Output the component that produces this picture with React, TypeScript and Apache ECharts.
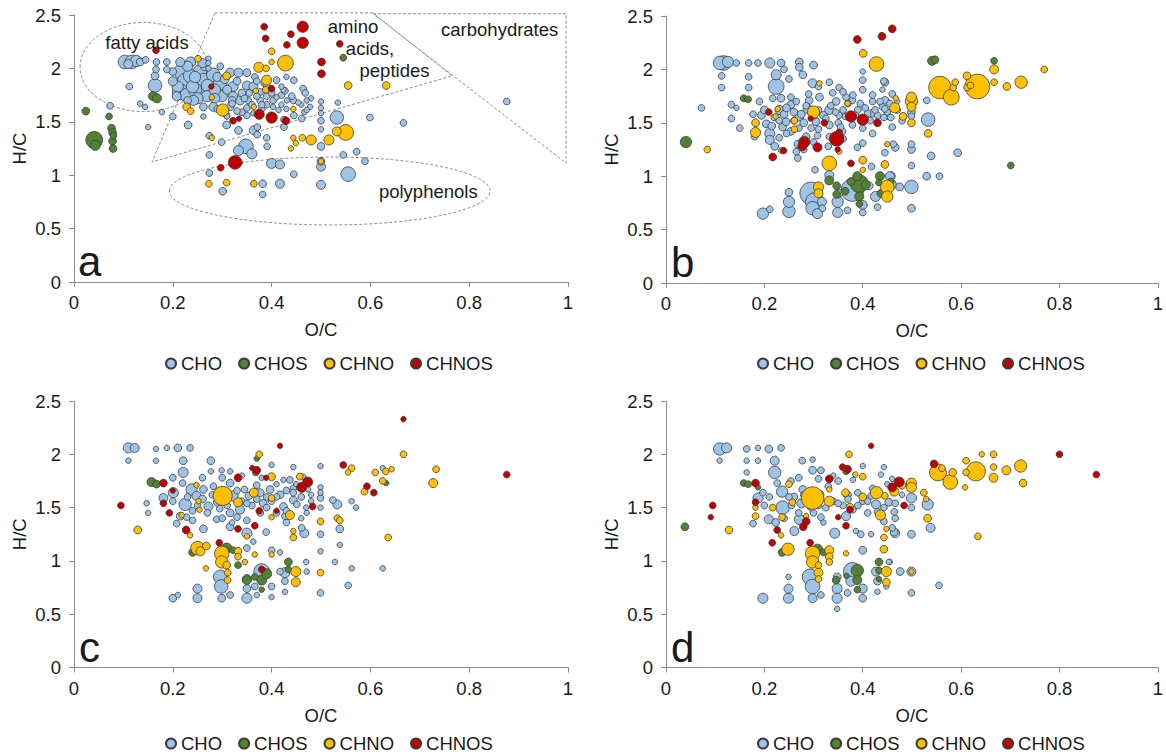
import React, { useEffect, useRef } from "react";
import * as echarts from "echarts";

// ---------- data: [O/C, H/C, relative intensity] ----------
const groupNames = ["CHO", "CHOS", "CHNO", "CHNOS"];
const xTickLabels = ["0", "0.2", "0.4", "0.6", "0.8", "1"];
const yTickLabels = ["0", "0.5", "1", "1.5", "2", "2.5"];
const panelLetters = ["a", "b", "c", "d"];

const choA = [
  [0.103,2.06,36],[0.117,2.06,36],[0.126,2.07,25],[0.11,2.04,16],[0.134,2.06,12],[0.145,2.08,9],[0.167,2.06,9],[0.188,2.06,9],
  [0.112,1.83,9],[0.073,1.65,9],[0.134,1.67,6],[0.144,1.64,6],[0.15,1.45,6],[0.178,1.59,6],[0.2,1.55,9],
  [0.164,1.93,12],[0.164,1.84,36],[0.166,1.99,9],
  [0.22,1.97,56],[0.225,1.88,49],[0.215,1.78,49],[0.228,1.75,36],[0.255,1.97,36],[0.262,1.89,36],[0.255,1.77,36],[0.282,1.94,36],
  [0.296,1.86,36],[0.299,1.74,25],[0.2,1.88,16],[0.2,1.97,12],[0.208,1.74,16],[0.188,1.99,9],[0.215,2.06,16],[0.236,2.06,20],
  [0.265,2.02,16],[0.316,1.96,16],[0.333,1.96,16],[0.35,1.96,12],[0.322,1.83,20],[0.35,1.84,16],[0.363,1.83,16],[0.336,1.7,16],
  [0.316,1.64,12],[0.282,1.64,16],[0.262,1.64,12],[0.242,1.7,20],[0.269,1.74,25],[0.322,1.74,16],[0.353,1.7,9],[0.377,1.7,9],
  [0.403,1.7,9],[0.403,1.64,6],[0.42,1.75,9],[0.424,1.8,6],[0.444,1.7,9],[0.41,1.89,9],[0.377,1.78,9],[0.366,1.92,9],
  [0.35,1.56,9],[0.363,1.58,6],[0.309,1.56,9],[0.262,1.55,6],[0.296,2.02,9],[0.272,2.09,6],[0.272,2.05,6],[0.272,2.0,6],
  [0.24,1.83,30],[0.285,1.8,25],[0.31,1.8,16],[0.245,1.92,25],[0.29,1.92,16],[0.23,1.7,12],[0.34,1.77,12],[0.33,1.88,12],
  [0.37,1.74,9],[0.39,1.74,9],[0.39,1.66,9],[0.38,1.62,9],[0.35,1.63,9],[0.34,1.59,9],[0.32,1.67,9],[0.36,1.66,9],
  [0.355,1.77,9],[0.4,1.77,9],[0.385,1.86,9],
  [0.235,1.93,36],[0.245,1.8,36],[0.27,1.84,30],[0.25,1.72,25],[0.285,1.72,20],[0.305,1.9,16],[0.21,1.83,25],[0.23,2.02,20],
  [0.26,2.05,16],[0.32,1.7,12],[0.345,1.72,9],[0.33,1.6,9],[0.38,1.66,9],[0.41,1.73,6],[0.43,1.62,6],[0.46,1.66,6],
  [0.48,1.72,6],[0.39,1.84,9],[0.42,1.83,6],[0.43,1.92,6],[0.37,1.88,9],[0.29,1.62,9],[0.31,1.55,6],
  [0.445,1.89,9],[0.464,1.81,9],[0.468,1.77,9],[0.471,1.7,6],[0.478,1.64,6],[0.466,1.59,6],[0.445,1.56,9],[0.454,1.68,6],
  [0.431,1.7,6],[0.42,1.66,6],[0.414,1.61,6],[0.427,1.79,9],[0.441,1.74,9],[0.461,1.53,9],[0.471,1.61,6],
  [0.5,1.69,6],[0.5,1.63,6],[0.5,1.58,6],[0.5,1.51,9],[0.5,1.43,6],[0.5,1.27,12],[0.5,1.13,12],[0.5,1.08,16],[0.5,0.91,16],
  [0.534,1.68,6],[0.532,1.54,36],[0.599,1.54,9],[0.667,1.49,9],[0.572,1.22,9],[0.589,1.13,9],[0.545,1.19,9],[0.555,1.01,42],[0.876,1.69,9],
  [0.348,1.27,42],[0.333,1.23,20],[0.36,1.2,20],[0.391,1.27,9],[0.371,1.38,9],[0.371,1.45,9],[0.425,1.45,9],[0.425,1.52,9],
  [0.4,1.11,20],[0.417,1.1,16],[0.445,1.01,9],[0.382,0.92,12],[0.382,0.82,9],[0.417,0.92,16],[0.301,0.85,12],[0.274,1.19,9],
  [0.274,1.02,9],[0.299,1.31,9],[0.274,1.37,9],[0.231,1.47,12],[0.309,1.47,12],[0.333,1.42,12],[0.364,1.42,16],[0.39,1.35,9]
];
const chosA = [
  [0.024,1.6,12],[0.041,1.33,56],[0.043,1.28,20],[0.071,1.55,9],[0.076,1.44,12],[0.078,1.4,12],[0.08,1.37,9],[0.078,1.32,12],
  [0.079,1.25,12],[0.16,1.74,16],[0.168,1.72,16],[0.545,2.1,9]
];
const chnoA = [
  [0.251,2.09,9],[0.309,1.93,12],[0.301,1.61,30],[0.279,1.73,6],[0.228,1.64,12],[0.236,1.6,9],[0.374,2.01,20],[0.39,1.89,20],
  [0.389,2.0,9],[0.4,2.16,9],[0.4,2.06,6],[0.428,2.05,49],[0.388,1.8,9],[0.368,1.79,6],[0.364,1.64,6],[0.279,1.35,6],
  [0.336,1.12,6],[0.273,0.92,9],[0.309,0.93,9],[0.364,0.92,9],[0.444,1.62,6],[0.444,1.35,6],[0.449,1.3,6],[0.439,1.25,6],
  [0.555,1.84,12],[0.632,1.84,12],[0.55,1.4,49],[0.532,1.41,16],[0.516,1.33,20],[0.48,1.33,20],[0.462,1.35,9],[0.5,1.13,6]
];
const chnosA = [
  [0.166,2.17,9],[0.278,1.83,6],[0.322,1.51,9],[0.334,1.53,6],[0.326,1.12,36],[0.297,1.07,9],[0.375,1.57,20],[0.4,1.54,25],
  [0.4,1.81,9],[0.429,1.51,12],[0.385,2.39,9],[0.388,2.28,9],[0.431,2.22,9],[0.439,2.32,9],[0.463,2.39,25],[0.463,2.24,25],
  [0.501,2.06,12],[0.501,1.95,12],[0.538,2.23,9]
];

const choB = [
  [0.11,2.06,36],[0.117,2.06,42],[0.126,2.07,25],[0.143,2.06,9],[0.113,1.94,9],[0.113,1.83,9],[0.072,1.64,9],[0.133,1.67,9],
  [0.143,1.64,6],[0.133,1.54,9],[0.15,1.45,9],[0.168,2.06,9],[0.187,2.06,9],[0.211,2.06,20],[0.234,2.06,12],[0.224,1.95,20],
  [0.224,1.84,49],[0.168,1.93,9],[0.168,1.83,9],[0.271,2.07,12],[0.271,2.02,12],[0.3,2.04,12],[0.278,1.95,12],[0.298,1.87,16],
  [0.332,1.88,9],[0.352,1.83,9],[0.4,1.9,9],[0.4,1.98,6],[0.443,1.89,9],[0.44,1.81,6],[0.46,1.77,9],
  [0.295,0.84,100],[0.302,0.76,64],[0.298,0.7,36],[0.308,0.65,20],[0.25,0.76,25],[0.25,0.67,30],[0.25,0.85,12],[0.197,0.65,25],
  [0.211,0.69,9],[0.349,0.76,25],[0.349,0.66,20],[0.352,0.84,12],[0.332,1.01,16],[0.379,0.87,100],[0.4,0.73,16],[0.4,0.66,9],
  [0.369,0.68,9],[0.317,0.76,16],[0.318,0.7,9],[0.426,0.81,20],[0.43,0.71,9],[0.413,0.91,12],[0.457,1.0,16],[0.457,0.92,25],
  [0.303,1.06,9],[0.4,1.31,9],[0.389,1.27,9],[0.418,1.09,9],[0.268,1.17,9],[0.265,1.23,9],[0.268,1.3,12],[0.211,1.4,20],
  [0.211,1.34,16],[0.221,1.28,12],[0.194,1.57,12],[0.231,1.62,16],[0.237,1.46,12],[0.254,1.42,12],[0.285,1.37,12],[0.308,1.38,9],
  [0.332,1.48,12],[0.332,1.37,9],[0.359,1.42,9],[0.271,1.56,16],[0.288,1.63,16],[0.332,1.62,16],[0.346,1.7,12],[0.379,1.71,9],
  [0.42,1.7,9],[0.42,1.59,12],[0.44,1.65,9],[0.453,1.56,9],[0.254,1.67,12],[0.254,1.74,9],[0.234,1.73,12],[0.217,1.73,9],
  [0.19,1.7,9],[0.177,1.58,9],[0.18,1.37,9],[0.204,1.49,12],[0.291,1.71,12],[0.312,1.74,12],[0.339,1.78,9],[0.366,1.74,9],
  [0.4,1.81,9],[0.305,1.51,12],[0.244,1.51,12],[0.352,1.57,9],[0.379,1.48,9],[0.41,1.59,9],[0.4,1.45,9],
  [0.26,1.6,12],[0.28,1.5,12],[0.32,1.57,12],[0.36,1.62,9],[0.39,1.62,9],[0.43,1.57,9],[0.27,1.45,9],[0.31,1.44,9],
  [0.35,1.5,9],[0.22,1.55,9],[0.24,1.58,12],[0.3,1.57,12],
  [0.2,1.62,12],[0.215,1.47,12],[0.23,1.52,9],[0.245,1.64,12],[0.265,1.7,9],[0.275,1.58,12],[0.285,1.66,9],[0.295,1.45,9],
  [0.31,1.62,9],[0.325,1.54,9],[0.335,1.66,9],[0.345,1.6,9],[0.355,1.46,9],[0.365,1.56,9],[0.37,1.68,9],[0.385,1.57,9],
  [0.395,1.68,9],[0.405,1.64,9],[0.415,1.52,9],[0.425,1.62,9],[0.435,1.7,9],[0.45,1.6,9],[0.455,1.68,9],[0.47,1.62,9],
  [0.48,1.52,9],[0.29,1.77,9],[0.31,1.84,9],[0.36,1.79,9],[0.38,1.76,9],[0.42,1.76,9],[0.26,1.52,9],[0.245,1.4,9],
  [0.3,1.32,9],[0.33,1.28,9],[0.36,1.35,9],[0.42,1.4,9],[0.28,1.25,9],[0.23,1.36,9],[0.25,1.91,9],[0.24,2.0,9],
  [0.445,1.88,12],[0.445,1.71,12],[0.445,1.63,9],[0.443,1.55,9],[0.457,1.55,9],[0.46,1.46,9],[0.47,1.7,6],[0.499,1.6,12],
  [0.499,1.56,9],[0.53,1.71,9],[0.533,1.53,36],[0.462,1.3,9],[0.466,1.27,12],[0.445,1.22,9],[0.499,1.3,9],[0.499,1.25,12],
  [0.499,1.1,9],[0.539,1.19,12],[0.593,1.22,12],[0.53,1.0,12],[0.556,1.0,9],[0.499,0.9,36],[0.475,0.9,12],[0.499,0.7,12],[0.455,1.0,16]
];
const chosB = [
  [0.0405,1.32,25],[0.158,1.73,9],[0.167,1.72,9],[0.541,2.08,16],[0.547,2.09,12],[0.667,2.08,9],[0.701,1.1,9],
  [0.332,0.96,16],[0.347,0.91,12],[0.347,0.83,12],[0.364,0.86,12],[0.393,0.93,64],[0.389,1.0,16],[0.393,0.81,16],[0.393,0.74,9],
  [0.435,1.0,16],[0.433,0.94,9],[0.437,0.84,12],[0.457,0.95,9],[0.376,0.95,12],[0.406,0.92,16]
];
const chnoB = [
  [0.084,1.25,9],[0.182,1.5,12],[0.182,1.41,20],[0.223,1.56,6],[0.227,1.63,6],[0.261,1.52,9],[0.261,1.44,9],[0.234,1.24,6],
  [0.3,1.6,30],[0.312,1.87,6],[0.332,1.12,42],[0.31,0.9,20],[0.31,0.84,16],[0.352,1.23,6],[0.369,1.68,6],[0.401,2.15,12],
  [0.428,2.05,42],[0.4,1.15,12],[0.4,1.06,6],[0.45,0.9,36],[0.45,0.81,25],[0.445,1.11,12],[0.45,1.3,6],[0.465,1.64,20],
  [0.467,1.73,6],[0.499,1.74,20],[0.499,1.7,30],[0.499,1.65,16],[0.499,1.5,12],[0.482,1.56,12],[0.533,1.4,12],[0.557,1.83,100],
  [0.58,1.74,49],[0.584,1.83,9],[0.588,1.88,9],[0.612,1.94,12],[0.612,1.83,9],[0.633,1.84,121],[0.619,1.85,9],[0.667,2.0,16],
  [0.667,1.88,9],[0.693,1.84,12],[0.722,1.88,30],[0.769,2.0,9]
];
const chnosB = [
  [0.209,1.6,9],[0.217,1.18,12],[0.239,1.24,9],[0.277,1.28,16],[0.281,1.32,25],[0.308,1.27,16],[0.294,1.54,6],[0.322,1.5,9],
  [0.347,1.35,42],[0.352,1.41,9],[0.349,1.25,6],[0.376,1.56,25],[0.4,1.53,25],[0.43,1.5,12],[0.376,1.12,9],[0.389,2.28,12],
  [0.439,2.31,12],[0.46,2.38,12]
];

const choC = [
  [0.11,2.06,20],[0.123,2.06,16],[0.11,1.94,6],[0.166,2.05,6],[0.188,2.06,6],[0.21,2.06,12],[0.235,2.06,9],[0.166,1.94,6],
  [0.221,1.94,12],[0.221,1.83,20],[0.277,1.94,12],[0.277,1.84,6],[0.299,1.85,6],[0.316,1.84,6],[0.147,1.54,6],[0.15,1.45,6],
  [0.181,1.59,16],[0.201,1.64,20],[0.22,1.73,9],[0.238,1.67,25],[0.225,1.53,30],[0.215,1.42,12],[0.208,1.35,9],[0.228,1.41,9],
  [0.262,1.3,12],[0.248,1.61,16],[0.272,1.51,16],[0.262,1.67,12],[0.282,1.7,9],[0.316,1.73,12],[0.322,1.61,20],[0.336,1.48,16],
  [0.316,1.45,12],[0.289,1.39,9],[0.316,1.32,12],[0.35,1.26,20],[0.354,1.61,12],[0.377,1.64,12],[0.383,1.54,12],[0.377,1.45,9],
  [0.397,1.67,12],[0.417,1.62,12],[0.424,1.51,12],[0.444,1.57,12],[0.444,1.68,9],[0.424,1.76,6],[0.444,1.88,6],[0.4,1.9,6],
  [0.43,1.36,9],[0.389,1.27,9],[0.363,1.18,6],[0.35,1.12,9],[0.4,1.1,9],[0.417,1.08,6],[0.296,0.85,36],[0.298,0.76,36],
  [0.299,0.65,12],[0.316,0.68,9],[0.25,0.74,16],[0.25,0.65,16],[0.2,0.65,12],[0.21,0.68,6],[0.35,0.83,16],[0.35,0.74,12],
  [0.35,0.65,20],[0.38,0.9,49],[0.366,0.76,9],[0.4,0.76,9],[0.4,0.66,6],[0.37,0.68,6],[0.417,0.9,9],[0.427,0.71,6],
  [0.499,1.89,6],[0.499,1.69,6],[0.499,1.64,6],[0.499,1.59,9],[0.499,1.5,6],[0.499,1.25,9],[0.499,1.09,6],[0.499,0.7,9],
  [0.533,1.53,16],[0.524,1.57,9],[0.562,1.56,6],[0.571,1.5,6],[0.538,1.3,12],[0.538,1.15,6],[0.528,0.99,6],[0.562,0.93,6],
  [0.555,0.77,9],[0.625,0.93,6],[0.625,1.87,6],[0.471,0.9,6],[0.427,0.89,20],[0.427,0.81,9],[0.47,0.99,6],
  [0.466,1.26,16],[0.461,1.31,9],[0.444,1.64,9],[0.437,1.76,9],[0.464,1.79,6],[0.474,1.67,6],[0.451,1.53,9],[0.471,1.45,6],
  [0.427,1.42,9],[0.26,1.58,12],[0.29,1.55,12],[0.31,1.52,9],[0.34,1.56,9],[0.36,1.52,9],[0.4,1.56,9],[0.41,1.45,9],
  [0.39,1.6,9],[0.27,1.45,9],[0.24,1.47,9],[0.345,1.67,9],[0.37,1.71,9],[0.41,1.72,6],[0.33,1.41,9],[0.3,1.4,9],
  [0.46,1.6,9],[0.48,1.56,6],[0.47,1.5,6],[0.35,1.38,9],
  [0.2,1.56,9],[0.23,1.6,9],[0.25,1.52,9],[0.28,1.62,9],[0.295,1.49,9],[0.33,1.66,9],[0.35,1.54,9],[0.37,1.58,9],
  [0.39,1.5,9],[0.41,1.6,9],[0.43,1.66,9],[0.43,1.47,9],[0.45,1.72,6],[0.46,1.4,6],[0.48,1.62,6],[0.3,1.78,9],
  [0.26,1.78,9],[0.34,1.8,6],[0.38,1.78,6],[0.24,1.38,9],[0.32,1.36,6],[0.2,1.78,9]
];
const chosC = [
  [0.157,1.74,16],[0.167,1.72,12],[0.24,1.08,12],[0.309,1.12,20],[0.322,1.1,9],[0.332,0.96,9],[0.35,0.82,16],[0.366,0.85,9],
  [0.38,0.82,20],[0.39,0.88,20],[0.38,0.73,6],[0.368,1.83,9],[0.37,1.96,6],[0.434,0.99,12],[0.434,0.92,9],[0.632,1.73,6]
];
const chnoC = [
  [0.301,1.61,72],[0.332,1.55,16],[0.364,1.64,16],[0.4,1.79,12],[0.4,1.59,9],[0.375,2.0,9],[0.25,1.12,36],[0.256,1.09,16],
  [0.268,1.14,12],[0.299,1.07,42],[0.299,0.99,30],[0.309,0.96,12],[0.311,0.89,9],[0.311,0.82,9],[0.332,1.09,12],[0.332,1.04,9],
  [0.346,0.99,6],[0.35,1.23,6],[0.366,1.06,6],[0.4,1.41,6],[0.4,1.06,6],[0.437,1.43,16],[0.444,1.28,6],[0.444,1.22,9],
  [0.449,0.9,20],[0.449,0.8,16],[0.129,1.29,12],[0.218,1.43,6],[0.235,1.24,6],[0.267,0.93,6],[0.252,1.56,6],[0.254,1.48,6],
  [0.248,1.71,6],[0.457,1.79,9],[0.499,1.37,9],[0.499,0.89,9],[0.533,1.4,9],[0.538,1.38,9],[0.562,1.87,9],[0.555,1.83,6],
  [0.588,1.65,9],[0.61,1.83,9],[0.631,1.84,9],[0.643,1.86,6],[0.625,1.75,9],[0.667,2.0,9],[0.733,1.86,9],[0.727,1.73,16],[0.636,1.22,9]
];
const chnosC = [
  [0.095,1.52,9],[0.181,1.73,12],[0.2,1.66,6],[0.181,1.54,9],[0.193,1.45,9],[0.227,1.29,12],[0.332,1.78,12],[0.332,1.3,9],
  [0.294,1.17,9],[0.37,1.85,12],[0.361,1.87,6],[0.366,1.33,9],[0.375,1.47,9],[0.38,0.92,9],[0.417,2.08,6],[0.389,1.78,6],
  [0.41,1.47,6],[0.667,2.33,6],[0.545,1.9,9],[0.473,1.74,20],[0.461,1.69,20],[0.483,1.51,9],[0.593,1.7,9],[0.607,1.64,9],[0.876,1.81,9]
];

const choD = [
  [0.109,2.05,30],[0.123,2.06,20],[0.109,1.94,6],[0.164,2.05,9],[0.187,2.06,6],[0.209,2.05,12],[0.234,2.06,9],[0.164,1.94,6],
  [0.187,1.94,6],[0.221,1.94,16],[0.221,1.83,30],[0.164,1.83,6],[0.277,1.94,9],[0.298,1.95,6],[0.298,1.85,12],[0.315,1.85,9],
  [0.4,1.89,6],[0.443,1.88,6],[0.177,1.35,9],[0.187,1.59,20],[0.197,1.64,9],[0.209,1.39,16],[0.223,1.36,12],[0.236,1.65,25],
  [0.237,1.5,36],[0.226,1.73,9],[0.254,1.75,9],[0.261,1.28,16],[0.271,1.39,20],[0.275,1.54,16],[0.278,1.67,12],[0.312,1.62,16],
  [0.315,1.41,9],[0.343,1.26,20],[0.366,1.42,16],[0.369,1.62,12],[0.417,1.61,9],[0.427,1.53,16],[0.443,1.37,9],[0.464,1.27,12],
  [0.396,1.25,9],[0.417,1.25,6],[0.386,1.28,6],[0.4,1.1,12],[0.293,0.85,49],[0.298,0.76,42],[0.298,0.65,16],[0.315,0.68,9],
  [0.249,0.85,6],[0.249,0.74,16],[0.249,0.65,20],[0.197,0.65,20],[0.348,0.85,12],[0.348,0.74,20],[0.348,0.65,20],[0.348,0.55,6],
  [0.379,0.9,64],[0.376,0.81,20],[0.369,0.7,9],[0.4,0.74,16],[0.4,0.65,12],[0.427,0.9,16],[0.43,0.81,12],[0.43,0.71,6],
  [0.455,0.99,6],[0.448,0.76,6],[0.437,1.81,6],[0.46,1.77,6],[0.499,1.59,20],[0.499,1.5,9],[0.532,1.53,25],[0.538,1.31,16],
  [0.499,1.25,12],[0.466,1.26,16],[0.46,1.31,9],[0.466,1.4,9],[0.464,1.46,9],[0.443,1.5,9],[0.453,1.55,12],[0.466,1.54,9],
  [0.453,0.99,6],[0.476,0.9,12],[0.499,0.9,16],[0.499,0.7,9],[0.555,0.77,9],
  [0.26,1.6,12],[0.29,1.55,12],[0.31,1.52,9],[0.34,1.56,9],[0.36,1.52,9],[0.4,1.56,9],[0.41,1.45,9],[0.39,1.64,9],
  [0.33,1.7,9],[0.35,1.75,9],[0.31,1.77,9],[0.27,1.45,9],[0.38,1.48,9],[0.42,1.68,9],[0.3,1.45,9],[0.325,1.5,9],[0.255,1.52,9],[0.2,1.52,9],
  [0.21,1.6,9],[0.25,1.6,9],[0.28,1.62,9],[0.295,1.5,9],[0.35,1.54,9],[0.37,1.58,9],[0.39,1.52,9],[0.41,1.56,9],
  [0.43,1.66,9],[0.43,1.46,9],[0.45,1.72,6],[0.48,1.62,6],[0.27,1.78,9],[0.34,1.8,6],[0.38,1.76,6],[0.24,1.4,9],[0.32,1.36,6]
];
const chosD = [
  [0.0385,1.32,12],[0.158,1.73,9],[0.167,1.72,9],[0.187,1.69,6],[0.236,1.08,12],[0.308,1.11,20],[0.32,1.08,9],[0.366,1.84,9],
  [0.346,0.82,12],[0.389,0.91,30],[0.389,0.82,16],[0.389,0.73,9],[0.433,0.99,12],[0.433,0.91,9],[0.433,0.83,6],[0.367,0.86,6]
];
const chnoD = [
  [0.128,1.29,12],[0.182,1.42,9],[0.182,1.5,6],[0.217,1.5,9],[0.234,1.24,6],[0.236,1.41,9],[0.248,1.11,30],[0.25,1.72,9],
  [0.257,1.55,9],[0.285,1.42,6],[0.298,1.59,100],[0.298,1.07,42],[0.298,0.99,30],[0.31,0.96,9],[0.31,0.89,16],[0.31,0.83,9],
  [0.332,1.56,20],[0.332,1.67,6],[0.332,1.1,16],[0.332,1.04,12],[0.332,0.99,9],[0.366,1.07,6],[0.372,2.0,9],[0.365,1.64,12],
  [0.374,1.51,9],[0.4,1.6,12],[0.4,1.79,9],[0.385,1.81,6],[0.428,1.64,30],[0.436,1.43,20],[0.445,1.61,9],[0.448,1.3,6],
  [0.443,1.22,9],[0.443,1.11,12],[0.448,0.9,20],[0.448,0.8,12],[0.464,1.65,16],[0.48,1.71,12],[0.499,1.73,20],[0.499,1.69,20],
  [0.499,0.9,6],[0.524,1.64,9],[0.529,1.58,6],[0.532,1.4,12],[0.634,1.23,9],[0.553,1.83,56],[0.561,1.87,9],[0.578,1.74,42],
  [0.583,1.83,12],[0.61,1.94,9],[0.61,1.83,9],[0.608,1.69,6],[0.63,1.84,72],[0.642,2.0,6],[0.666,2.0,9],[0.666,1.88,9],
  [0.666,1.78,16],[0.692,1.85,16],[0.721,1.89,30],[0.726,1.73,12]
];
const chnosD = [
  [0.095,1.52,9],[0.091,1.41,6],[0.182,1.73,12],[0.182,1.55,9],[0.226,1.29,9],[0.216,1.17,9],[0.279,1.32,12],[0.285,1.37,12],
  [0.293,1.17,9],[0.332,1.77,12],[0.35,1.41,6],[0.359,1.88,9],[0.369,1.86,12],[0.374,1.48,9],[0.366,1.33,9],[0.417,2.08,6],
  [0.474,1.74,20],[0.46,1.69,16],[0.484,1.52,9],[0.545,1.91,12],[0.8,2.0,9],[0.875,1.81,9]
];

const panels = [
  [choA, chosA, chnoA, chnosA],
  [choB, chosB, chnoB, chnosB],
  [choC, chosC, chnoC, chnosC],
  [choD, chosD, chnoD, chnosD],
];

// region annotations of panel a (in O/C, H/C units)
const fattyAcidsEllipse = { cx: 0.1407, cy: 2.013, rx: 0.1285, ry: 0.417 };
const polyphenolsEllipse = { cx: 0.5176, cy: 0.852, rx: 0.3245, ry: 0.318 };
const aminoPolygon = [[0.2854, 2.52], [0.6053, 2.52], [0.7652, 1.929], [0.1579, 1.124], [0.2854, 2.52]];
const carbTriangle = [[0.6053, 2.512], [0.996, 2.512], [0.996, 1.114], [0.6053, 2.512]];
const regionLabels = [
  { text: "fatty acids", x: 0.1478, y: 2.247 },
  { text: "amino", x: 0.5648, y: 2.388 },
  { text: "acids,", x: 0.5992, y: 2.191 },
  { text: "peptides", x: 0.6488, y: 1.985 },
  { text: "carbohydrates", x: 0.8617, y: 2.36 },
  { text: "polyphenols", x: 0.7172, y: 0.846 },
];

// ---------- styles / layout ----------
const COLORS = ["#9DC3E6", "#548235", "#FFC000", "#C00000"];
const FONT = "'Liberation Sans', Arial, sans-serif";
const TXT = "#1a1a1a";
const AXIS = "#8a8a8a";
const GRIDS = [
  { left: 74, top: 15, width: 494, height: 267 },
  { left: 666, top: 16, width: 494, height: 267 },
  { left: 74, top: 401, width: 494, height: 266.5 },
  { left: 666, top: 401, width: 494, height: 266.5 },
];
const LEGEND_POS = [
  { left: 160, top: 349 },
  { left: 752, top: 349 },
  { left: 160, top: 729 },
  { left: 752, top: 729 },
];
const LETTER_POS = [
  { dx: 4, dy: -6 },
  { dx: 5, dy: -6 },
  { dx: 5, dy: -5 },
  { dx: 5, dy: -5 },
];

const px = (g: number, x: number, y: number) => {
  const G = GRIDS[g];
  return [G.left + x * G.width, G.top + G.height * (1 - y / 2.5)];
};

export default function App() {
  const ref = useRef<HTMLDivElement>(null);
  useEffect(() => {
    if (!ref.current) return;
    const chart = echarts.init(ref.current, undefined, { renderer: "svg" });

    const xAxis = GRIDS.map((_, i) => ({
      gridIndex: i, type: "value", min: 0, max: 1, interval: 0.2,
      name: "O/C", nameLocation: "middle", nameGap: 38,
      nameTextStyle: { fontSize: 18.5, color: TXT, fontFamily: FONT },
      axisLine: { show: true, onZero: false, lineStyle: { color: AXIS, width: 1 } },
      axisTick: { show: true, length: 5, lineStyle: { color: AXIS } },
      axisLabel: { fontSize: 18.5, color: TXT, fontFamily: FONT, margin: 11,
        formatter: (v: number) => xTickLabels[Math.round(v / 0.2)] },
      splitLine: { show: false },
    }));
    const yAxis = GRIDS.map((_, i) => ({
      gridIndex: i, type: "value", min: 0, max: 2.5, interval: 0.5,
      name: "H/C", nameLocation: "middle", nameGap: 45, nameRotate: 90,
      nameTextStyle: { fontSize: 18.5, color: TXT, fontFamily: FONT },
      axisLine: { show: true, onZero: false, lineStyle: { color: AXIS, width: 1 } },
      axisTick: { show: true, length: 5, lineStyle: { color: AXIS } },
      axisLabel: { fontSize: 18.5, color: TXT, fontFamily: FONT, margin: 13,
        formatter: (v: number) => yTickLabels[Math.round(v / 0.5)] },
      splitLine: { show: false },
    }));

    const series: any[] = [];
    panels.forEach((groups, pi) => {
      groups.forEach((data, gi) => {
        const sorted = [...data].sort((a, b) => b[2] - a[2]);
        series.push({
          type: "scatter", name: groupNames[gi], xAxisIndex: pi, yAxisIndex: pi,
          data: sorted, symbol: "circle",
          symbolSize: (v: number[]) => 2.25 * Math.sqrt(v[2]),
          itemStyle: { color: COLORS[gi], borderColor: "#3c3c3c", borderWidth: 0.8, opacity: 1 },
          emphasis: { disabled: true },
          z: 2 + gi,
        });
      });
    });

    const legend = LEGEND_POS.map((p) => ({
      left: p.left, top: p.top, orient: "horizontal", icon: "circle",
      itemWidth: 10, itemHeight: 10, itemGap: 16, selectedMode: false,
      data: groupNames,
      textStyle: { fontSize: 18.5, color: TXT, fontFamily: FONT },
    }));

    const dash = { stroke: "#8f8f8f", lineWidth: 1, lineDash: [3, 2], fill: "none" };
    const graphic: any[] = [];
    GRIDS.forEach((G, i) => {
      graphic.push({
        type: "text", left: G.left + LETTER_POS[i].dx, top: G.top + G.height + LETTER_POS[i].dy - 36,
        style: { text: panelLetters[i], fontSize: 42, fontFamily: FONT, fill: TXT },
        z: 10,
      });
    });
    const e1c = px(0, fattyAcidsEllipse.cx, fattyAcidsEllipse.cy);
    graphic.push({ type: "ellipse", shape: { cx: e1c[0], cy: e1c[1], rx: fattyAcidsEllipse.rx * GRIDS[0].width, ry: fattyAcidsEllipse.ry * GRIDS[0].height / 2.5 }, style: dash, z: 1 });
    const e2c = px(0, polyphenolsEllipse.cx, polyphenolsEllipse.cy);
    graphic.push({ type: "ellipse", shape: { cx: e2c[0], cy: e2c[1], rx: polyphenolsEllipse.rx * GRIDS[0].width, ry: polyphenolsEllipse.ry * GRIDS[0].height / 2.5 }, style: dash, z: 1 });
    graphic.push({ type: "polyline", shape: { points: aminoPolygon.map((p) => px(0, p[0], p[1])) }, style: dash, z: 1 });
    graphic.push({ type: "polyline", shape: { points: carbTriangle.map((p) => px(0, p[0], p[1])) }, style: dash, z: 1 });
    regionLabels.forEach((l) => {
      const p = px(0, l.x, l.y);
      graphic.push({
        type: "text", x: p[0], y: p[1], z: 10,
        style: { text: l.text, fontSize: 18.5, fontFamily: FONT, fill: TXT, align: "center", verticalAlign: "middle" },
      });
    });

    chart.setOption({
      animation: false,
      backgroundColor: "#ffffff",
      textStyle: { fontFamily: FONT },
      grid: GRIDS.map((g) => ({ ...g, containLabel: false })),
      xAxis, yAxis, legend, series, graphic,
    });
    return () => chart.dispose();
  }, []);
  return (
    <div ref={ref} style={{ position: "fixed", left: 0, top: 0, width: 1166, height: 756, background: "#fff" }} />
  );
}
